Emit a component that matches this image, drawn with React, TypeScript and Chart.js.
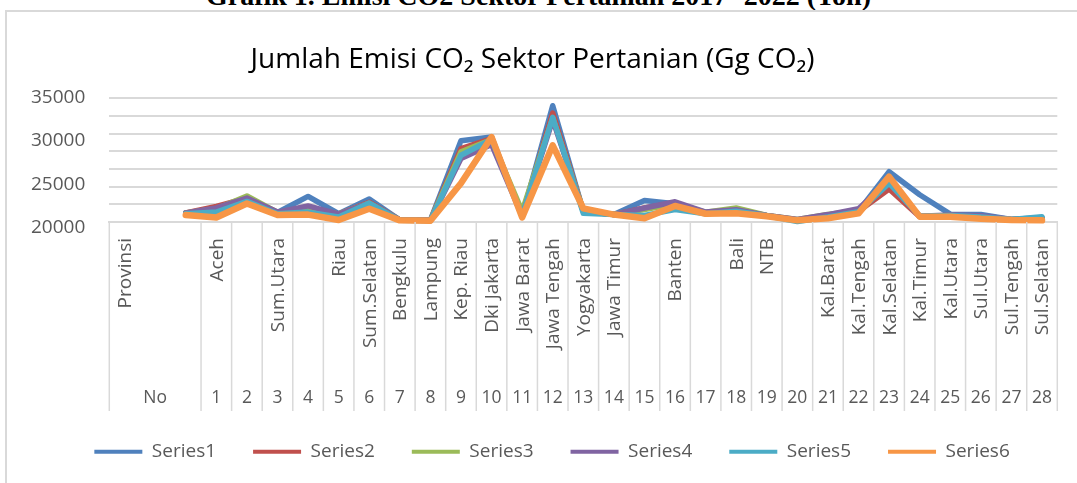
import React, { useEffect, useRef } from "react";
import { Chart, registerables } from "chart.js";

Chart.register(...registerables);

const chartTitle = "Jumlah Emisi CO\u2082 Sektor Pertanian (Gg CO\u2082)";
const pageHeading = "Grafik 1. Emisi CO2 Sektor Pertanian 2017- 2022 (Ton)";

const noLabels = ["No", "", "", "1", "2", "3", "4", "5", "6", "7", "8", "9", "10", "11", "12", "13", "14", "15", "16", "17", "18", "19", "20", "21", "22", "23", "24", "25", "26", "27", "28"];
const provinces = ["Provinsi", "", "", "Aceh", "", "Sum.Utara", "", "Riau", "Sum.Selatan", "Bengkulu", "Lampung", "Kep. Riau", "Dki Jakarta", "Jawa Barat", "Jawa Tengah", "Yogyakarta", "Jawa Timur", "", "Banten", "", "Bali", "NTB", "", "Kal.Barat", "Kal.Tengah", "Kal.Selatan", "Kal.Timur", "Kal.Utara", "Sul.Utara", "Sul.Tengah", "Sul.Selatan"];

const series1 = [null, null, 21100, 21400, 22750, 21150, 23100, 21000, 22800, 20250, 20200, 29850, 30300, 20700, 34100, 21300, 20900, 22600, 22200, 21100, 21400, 20750, 20250, 20500, 21300, 26100, 23300, 20950, 20900, 20300, 20550];
const series2 = [null, null, 21100, 21900, 22900, 21150, 21700, 20950, 22400, 20250, 20200, 28900, 30100, 20700, 33200, 21300, 20900, 21700, 22300, 21100, 21500, 20750, 20250, 20850, 21300, 24000, 20650, 20800, 20600, 20300, 20400];
const series3 = [null, null, 21100, 21600, 23150, 21150, 21700, 20950, 22300, 20250, 20200, 28500, 30000, 21300, 32600, 21400, 20900, 21500, 22200, 21200, 21700, 20800, 20300, 20900, 21400, 25000, 20700, 20800, 20600, 20300, 20450];
const series4 = [null, null, 21100, 21700, 22900, 21200, 21950, 20950, 22300, 20250, 20200, 27700, 29400, 20700, 32400, 21300, 20900, 21700, 22450, 21200, 21500, 20800, 20300, 20900, 21600, 25000, 20700, 20850, 20750, 20300, 20400];
const series5 = [null, null, 21000, 21200, 22500, 21000, 21200, 20600, 22300, 20200, 20150, 28100, 30000, 20700, 32700, 21050, 20900, 20800, 21500, 21000, 21300, 20750, 20050, 20600, 21250, 24700, 20700, 20800, 20600, 20300, 20650];
const series6 = [null, null, 20850, 20550, 22250, 20850, 20900, 20250, 21600, 20200, 20150, 24700, 30300, 20550, 29300, 21650, 20900, 20450, 21950, 21000, 21050, 20700, 20200, 20450, 21050, 25500, 20650, 20650, 20400, 20250, 20200];

const seriesNames = ["Series1", "Series2", "Series3", "Series4", "Series5", "Series6"];
const seriesValues = [series1, series2, series3, series4, series5, series6];
const seriesColors = ["#4F81BD", "#C0504D", "#9BBB59", "#8064A2", "#4BACC6", "#F79646"];

const valueTicks = [20000, 25000, 30000, 35000];
const axisMin = 20000;
const axisMax = 35000;
const gridCount = 7;

const FONT = '"Open Sans", "Noto Sans", sans-serif';

const legendShift = {
  id: "legendShift",
  afterLayout(chart: any) {
    if (chart.legend) {
      chart.legend.left += 13.4;
      chart.legend.right += 13.4;
    }
  },
};

const labelPlugin = {
  id: "multiLevelLabels",
  afterDraw(chart: any) {
    const ctx = chart.ctx;
    const xs = chart.scales.x;
    const area = chart.chartArea;
    const n = noLabels.length;
    const step = xs.getPixelForValue(1) - xs.getPixelForValue(0);
    const half = step / 2;
    const top = area.bottom;
    ctx.save();
    ctx.strokeStyle = "#d9d9d9";
    ctx.lineWidth = 1.5;
    const bounds: number[] = [xs.getPixelForValue(0) - half];
    for (let i = 3; i < n; i++) bounds.push(xs.getPixelForValue(i) - half);
    bounds.push(xs.getPixelForValue(n - 1) + half);
    bounds.forEach((bx) => {
      ctx.beginPath();
      ctx.moveTo(bx, top);
      ctx.lineTo(bx, top + 189);
      ctx.stroke();
    });
    ctx.fillStyle = "#595959";
    ctx.font = `19px ${FONT}`;
    provinces.forEach((p, i) => {
      if (!p) return;
      ctx.save();
      ctx.translate(xs.getPixelForValue(i) + 1, top + 16);
      ctx.rotate(-Math.PI / 2);
      ctx.textAlign = "right";
      ctx.textBaseline = "middle";
      ctx.fillText(p, 0, 0);
      ctx.restore();
    });
    ctx.font = `17.5px ${FONT}`;
    ctx.textAlign = "center";
    ctx.textBaseline = "middle";
    noLabels.forEach((l, i) => {
      if (!l) return;
      const cx = i === 0 ? (xs.getPixelForValue(0) + xs.getPixelForValue(2)) / 2 : xs.getPixelForValue(i);
      ctx.fillText(l, cx, top + 176.3);
    });
    ctx.font = `28px ${FONT}`;
    ctx.fillStyle = "#000000";
    ctx.fillText(chartTitle, 532.5, 60);
    ctx.restore();
  },
};

export default function App() {
  const canvasRef = useRef<HTMLCanvasElement | null>(null);

  useEffect(() => {
    if (!canvasRef.current) return;
    const chart = new Chart(canvasRef.current, {
      type: "line",
      data: {
        labels: noLabels,
        datasets: seriesValues.map((vals, i) => ({
          label: seriesNames[i],
          data: vals,
          borderColor: seriesColors[i],
          backgroundColor: seriesColors[i],
          borderWidth: i === 5 ? 6.5 : 5.5,
          pointRadius: 0,
          pointHoverRadius: 0,
          tension: 0,
          fill: false,
          borderJoinStyle: "round",
          borderCapStyle: "round",
          order: 6 - i,
          clip: false,
        })),
      } as any,
      options: {
        responsive: false,
        animation: false,
        devicePixelRatio: 1,
        layout: { padding: { left: 20, right: 19.7, top: 98.3, bottom: 11.8 } },
        plugins: {
          title: { display: false },
          tooltip: { enabled: false },
          legend: {
            position: "bottom",
            labels: {
              boxWidth: 48,
              boxHeight: 4,
              padding: 37,
              color: "#595959",
              font: { family: FONT, size: 19 },
              generateLabels: (c: any) =>
                c.data.datasets.map((ds: any, i: number) => ({
                  text: ds.label,
                  fillStyle: ds.borderColor,
                  strokeStyle: ds.borderColor,
                  lineWidth: 0,
                  hidden: false,
                  datasetIndex: i,
                  fontColor: "#595959",
                })),
            },
          },
        },
        scales: {
          x: {
            type: "category",
            offset: true,
            grid: { display: false, drawTicks: false },
            ticks: { display: false },
            border: { display: true, color: "#d9d9d9", width: 2 },
            afterFit: (s: any) => {
              s.height = 183.2;
            },
          },
          y: {
            type: "linear",
            position: "left",
            weight: 0,
            min: axisMin,
            max: axisMax,
            afterBuildTicks: (s: any) => {
              const t = [];
              for (let i = 0; i <= gridCount; i++) t.push({ value: axisMin + (i * (axisMax - axisMin)) / gridCount });
              s.ticks = t;
            },
            ticks: { display: false },
            grid: { color: "#d9d9d9", lineWidth: 2, drawTicks: false },
            border: { display: false },
            afterFit: (s: any) => {
              s.width = 0;
            },
          },
          yL: {
            type: "linear",
            position: "left",
            weight: 1,
            min: 20658,
            max: 34931,
            afterBuildTicks: (s: any) => {
              s.ticks = valueTicks.map((v) => ({ value: v }));
            },
            grid: { display: false, drawTicks: false },
            border: { display: false },
            ticks: {
              padding: 24,
              color: "#595959",
              font: { family: FONT, size: 19 },
              autoSkip: false,
              callback: (v: any) => String(v),
            },
            afterFit: (s: any) => {
              s.width = 89.3;
            },
          },
        },
      } as any,
      plugins: [legendShift, labelPlugin],
    });
    return () => chart.destroy();
  }, []);

  return (
    <div style={{ position: "fixed", left: 0, top: 0, width: 1077, height: 483, overflow: "hidden", background: "#ffffff" }}>
      <div
        style={{
          position: "absolute",
          left: 0,
          top: -18,
          width: 1077,
          textAlign: "center",
          fontFamily: '"Liberation Serif", serif',
          fontWeight: "bold",
          fontSize: 28,
          lineHeight: "28px",
          whiteSpace: "nowrap",
          color: "#000",
        }}
      >
        {pageHeading}
      </div>
      <div
        style={{
          position: "absolute",
          left: 5,
          top: 10,
          width: 1200,
          height: 600,
          border: "2px solid #d9d9d9",
          boxSizing: "border-box",
        }}
      />
      <canvas ref={canvasRef} width={1077} height={483} style={{ position: "absolute", left: 0, top: 0, width: 1077, height: 483 }} />
    </div>
  );
}
